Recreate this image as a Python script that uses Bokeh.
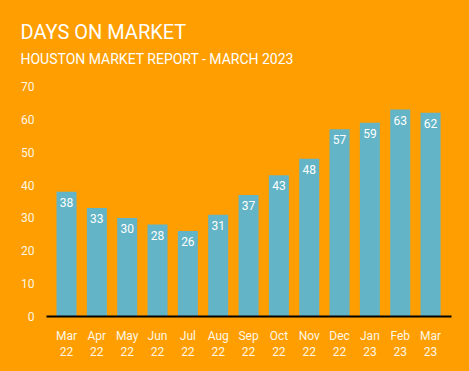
from bokeh.plotting import figure
from bokeh.models import ColumnDataSource, Title, Range1d, FixedTicker
from bokeh.core.properties import value
from bokeh.embed import file_html
from bokeh.resources import INLINE

months = ["Mar\n22", "Apr\n22", "May\n22", "Jun\n22", "Jul\n22", "Aug\n22", "Sep\n22",
          "Oct\n22", "Nov\n22", "Dec\n22", "Jan\n23", "Feb\n23", "Mar\n23"]
days = [38, 33, 30, 28, 26, 31, 37, 43, 48, 57, 59, 63, 62]
y_ticks = [0, 10, 20, 30, 40, 50, 60, 70]

BG = "#FF9E00"
BAR = "#63B4C6"
FONT = "Roboto"

idx = list(range(len(months)))
src = ColumnDataSource(dict(x=idx, y=days, lab=[str(d) for d in days]))

p = figure(width=469, height=371, output_backend="svg", toolbar_location=None,
           x_range=Range1d(-0.66, 12.69), y_range=Range1d(0, 76.1),
           min_border_left=46, min_border_right=18, min_border_top=66, min_border_bottom=55)
p.styles = {"background-color": BG}
p.background_fill_color = BG
p.border_fill_color = BG
p.outline_line_color = None
p.grid.visible = False

p.vbar(x="x", top="y", width=0.66, source=src, color=BAR, line_color=None)
p.text(x="x", y="y", text="lab", source=src, text_align="center", text_baseline="top",
       y_offset=6, text_color="white", text_font=value(FONT), text_font_size="12px")

xa = p.xaxis[0]
xa.ticker = FixedTicker(ticks=idx)
xa.major_label_overrides = {i: m for i, m in zip(idx, months)}
xa.axis_line_color = "black"
xa.axis_line_width = 2
xa.major_tick_line_color = None
xa.minor_tick_line_color = None
xa.major_label_text_color = "#FFF6E6"
xa.major_label_text_font = FONT
xa.major_label_text_font_size = "12px"
xa.major_label_standoff = 6

ya = p.yaxis[0]
ya.ticker = FixedTicker(ticks=y_ticks)
ya.axis_line_color = None
ya.major_tick_line_color = None
ya.minor_tick_line_color = None
ya.major_label_text_color = "#FFF6E6"
ya.major_label_text_font = FONT
ya.major_label_text_font_size = "12px"
ya.major_label_standoff = 6

p.add_layout(Title(text="HOUSTON MARKET REPORT - MARCH 2023", align="left", offset=-26,
                   text_color="white", text_font=FONT, text_font_size="14px",
                   text_font_style="normal", standoff=0), "above")
p.add_layout(Title(text="DAYS ON MARKET", align="left", offset=-26,
                   text_color="white", text_font=FONT, text_font_size="20px",
                   text_font_style="normal", standoff=9), "above")

open("out.html", "w").write(file_html(p, INLINE))
